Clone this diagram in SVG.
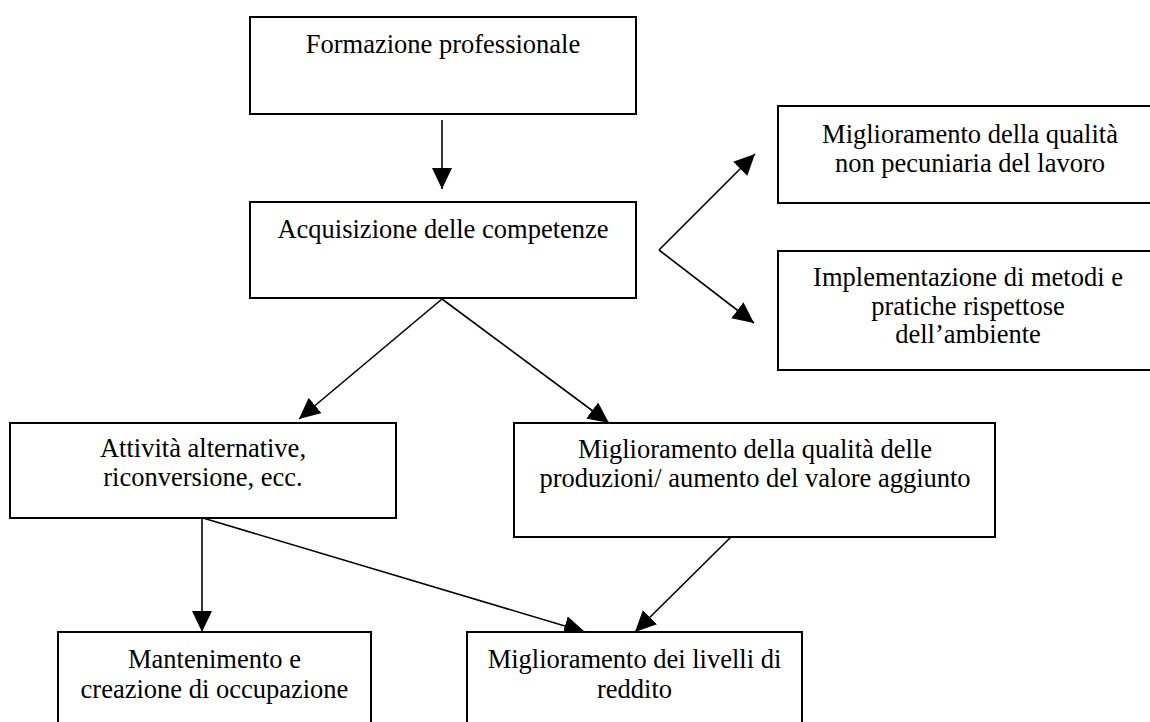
<svg xmlns="http://www.w3.org/2000/svg" width="1150" height="722" viewBox="0 0 1150 722">
<style>
  .box { fill: #ffffff; stroke: #000000; stroke-width: 2; }
  .lbl { font-family: "Liberation Serif", "Times New Roman", serif; font-size: 26.5px; fill: #000000; text-anchor: middle; }
  .conn { stroke: #000000; stroke-width: 1.6; fill: none; }
  .arr { marker-end: url(#ah); }
</style>
<defs>
  <marker id="ah" markerUnits="userSpaceOnUse" markerWidth="22" markerHeight="22" viewBox="0 0 22 22" refX="21" refY="10" orient="auto">
    <path d="M0,0 L21,10 L0,20 z" fill="#000000"/>
  </marker>
</defs>
<rect width="1150" height="722" fill="#ffffff"/>

<g id="connectors">
  <line class="conn arr" x1="442" y1="120" x2="442" y2="189"/>
  <line class="conn arr" x1="659" y1="250" x2="755" y2="154"/>
  <line class="conn arr" x1="659" y1="250" x2="754" y2="323"/>
  <line class="conn arr" x1="442" y1="299" x2="299" y2="419"/>
  <line class="conn arr" x1="442" y1="299" x2="609" y2="423"/>
  <line class="conn arr" x1="202" y1="518" x2="202" y2="632"/>
  <line class="conn arr" x1="203" y1="518" x2="585" y2="632"/>
  <line class="conn arr" x1="731" y1="537" x2="635" y2="632"/>
</g>

<g id="n-formazione">
  <rect class="box" x="250" y="17" width="386" height="97"/>
  <text class="lbl" x="443" y="53">Formazione professionale</text>
</g>

<g id="n-acquisizione">
  <rect class="box" x="250" y="202" width="386" height="96"/>
  <text class="lbl" x="443" y="238">Acquisizione delle competenze</text>
</g>

<g id="n-qualita-lavoro">
  <rect class="box" x="778" y="106" width="390" height="97"/>
  <text class="lbl" x="970" y="143">Miglioramento della qualità</text>
  <text class="lbl" x="970" y="171.5">non pecuniaria del lavoro</text>
</g>

<g id="n-ambiente">
  <rect class="box" x="778" y="251" width="390" height="119"/>
  <text class="lbl" x="968" y="286">Implementazione di metodi e</text>
  <text class="lbl" x="968" y="314.5">pratiche rispettose</text>
  <text class="lbl" x="968" y="343">dell’ambiente</text>
</g>

<g id="n-attivita">
  <rect class="box" x="10" y="423" width="386" height="95"/>
  <text class="lbl" x="203" y="457">Attività alternative,</text>
  <text class="lbl" x="203" y="485.5">riconversione, ecc.</text>
</g>

<g id="n-produzioni">
  <rect class="box" x="514" y="423" width="481" height="114"/>
  <text class="lbl" x="755" y="458">Miglioramento della qualità delle</text>
  <text class="lbl" x="755" y="487">produzioni/ aumento del valore aggiunto</text>
</g>

<g id="n-occupazione">
  <rect class="box" x="58" y="632" width="313" height="100"/>
  <text class="lbl" x="214.5" y="668">Mantenimento e</text>
  <text class="lbl" x="214.5" y="697.5">creazione di occupazione</text>
</g>

<g id="n-reddito">
  <rect class="box" x="467" y="632" width="335" height="100"/>
  <text class="lbl" x="634.5" y="668">Miglioramento dei livelli di</text>
  <text class="lbl" x="634.5" y="697.5">reddito</text>
</g>
</svg>
